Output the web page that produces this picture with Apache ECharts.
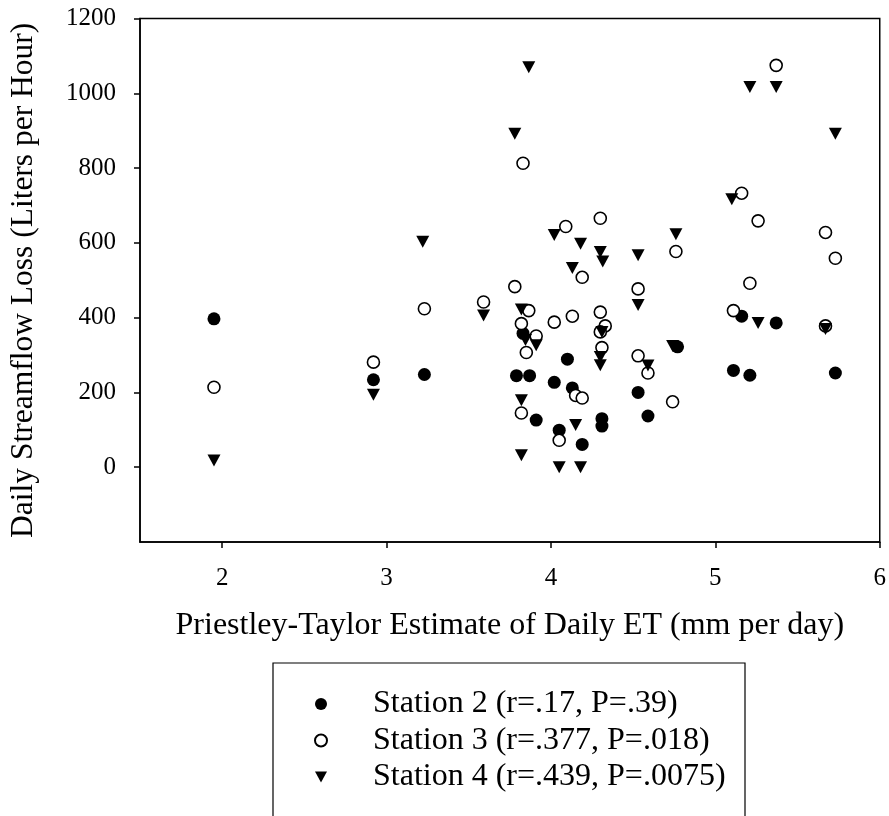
<!DOCTYPE html>
<html><head><meta charset="utf-8">
<script src="https://cdn.jsdelivr.net/npm/echarts@6/dist/echarts.min.js"></script>
<style>html,body{margin:0;padding:0;background:#fff}#c{width:889px;height:816px}</style>
</head><body><div id="c"></div>
<script>
const xTicks = [2, 3, 4, 5, 6];
const yTicks = [0, 200, 400, 600, 800, 1000, 1200];
const seriesNames = ['Station 2 (r=.17, P=.39)', 'Station 3 (r=.377, P=.018)', 'Station 4 (r=.439, P=.0075)'];
const station2 = [
  [1.95,397],[2.92,234],[3.23,248],[3.79,245],[3.87,245],[3.83,358],[4.10,289],[4.02,227],
  [4.13,212],[3.91,126],[4.05,99],[4.19,61],[4.31,130],[4.31,110],[4.53,200],[4.59,137],
  [4.77,322],[5.11,259],[5.21,246],[5.16,404],[5.37,386],[5.73,252]
];
const station3 = [
  [1.95,214],[2.92,281],[3.23,424],[3.59,442],[3.78,483],[3.83,813],[3.865,419],[3.82,384],
  [3.91,351],[3.85,307],[3.82,145],[4.02,388],[4.13,404],[4.09,644],[4.19,508],[4.15,192],
  [4.19,185],[4.05,72],[4.30,666],[4.30,415],[4.33,378],[4.30,362],[4.31,320],[4.53,477],
  [4.53,298],[4.59,252],[4.74,175],[4.76,577],[5.11,419],[5.16,733],[5.21,492],[5.26,659],
  [5.37,1075],[5.67,628],[5.67,378],[5.73,559]
];
const station4 = [
  [1.95,18],[2.92,194],[3.22,603],[3.59,406],[3.78,892],[3.865,1070],[3.82,422],[3.845,340],
  [3.91,326],[3.82,179],[3.82,32],[4.02,621],[4.18,598],[4.13,533],[4.30,576],[4.315,550],
  [4.31,362],[4.30,295],[4.30,273],[4.15,113],[4.05,0],[4.18,0],[4.53,567],[4.53,434],
  [4.59,272],[4.74,324],[4.76,623],[5.10,717],[5.21,1017],[5.37,1017],[5.26,386],[5.67,370],
  [5.73,892]
];

const FONT = 'Liberation Serif';
const chart = echarts.init(document.getElementById('c'), null, {renderer: 'canvas'});
chart.setOption({
  backgroundColor: '#fff',
  animation: false,
  grid: {left: 140, right: 8, top: 18.6, bottom: 274, show: true, borderColor: '#000', borderWidth: 1.5, containLabel: false},
  xAxis: {
    type: 'value', min: 1.5, max: 6,
    name: 'Priestley-Taylor Estimate of Daily ET (mm per day)',
    nameLocation: 'middle', nameGap: 68,
    nameTextStyle: {fontFamily: FONT, fontSize: 32, color: '#000'},
    axisLine: {show: true, onZero: false, lineStyle: {color: '#000', width: 1.5}},
    axisTick: {show: true, inside: false, length: 6, customValues: xTicks, lineStyle: {color: '#000', width: 1.5}},
    axisLabel: {customValues: xTicks, margin: 24, fontFamily: FONT, fontSize: 25, color: '#000', formatter: v => String(v)},
    splitLine: {show: false}
  },
  yAxis: {
    type: 'value', min: -200, max: 1200,
    name: 'Daily Streamflow Loss (Liters per Hour)',
    nameLocation: 'middle', nameGap: 100,
    nameTextStyle: {fontFamily: FONT, fontSize: 31.5, color: '#000'},
    axisLine: {show: true, onZero: false, lineStyle: {color: '#000', width: 1.5}},
    axisTick: {show: true, inside: false, length: 6, customValues: yTicks, lineStyle: {color: '#000', width: 1.5}},
    axisLabel: {customValues: yTicks, margin: 24, fontFamily: FONT, fontSize: 25, color: '#000', formatter: v => String(v)},
    splitLine: {show: false}
  },
  legend: {
    orient: 'vertical', left: 309, top: 683,
    itemWidth: 12, itemHeight: 12, itemGap: 4.5,
    symbolKeepAspect: true,
    textStyle: {fontFamily: FONT, fontSize: 32, color: '#000', padding: [0, 0, 0, 41]},
    data: [
      {name: seriesNames[0]},
      {name: seriesNames[1]},
      {name: seriesNames[2], icon: 'path://M0,0L12,0L6,11Z'}
    ]
  },
  graphic: [{
    type: 'rect', shape: {x: 273, y: 663, width: 472, height: 200},
    style: {fill: 'none', stroke: '#000', lineWidth: 1.2}, silent: true, z: 100
  }],
  series: [
    {name: seriesNames[0], type: 'scatter', data: station2, symbol: 'circle', symbolSize: 13,
     itemStyle: {color: '#000', borderColor: '#000', borderWidth: 0, opacity: 1}},
    {name: seriesNames[1], type: 'scatter', data: station3, symbol: 'circle', symbolSize: 12,
     itemStyle: {color: '#fff', borderColor: '#000', borderWidth: 1.6, opacity: 1}},
    {name: seriesNames[2], type: 'scatter', data: station4, symbol: 'triangle', symbolRotate: 180, symbolSize: [13, 12],
     symbolKeepAspect: true,
     itemStyle: {color: '#000', borderColor: '#000', borderWidth: 0, opacity: 1}}
  ]
});
</script>
</body></html>
